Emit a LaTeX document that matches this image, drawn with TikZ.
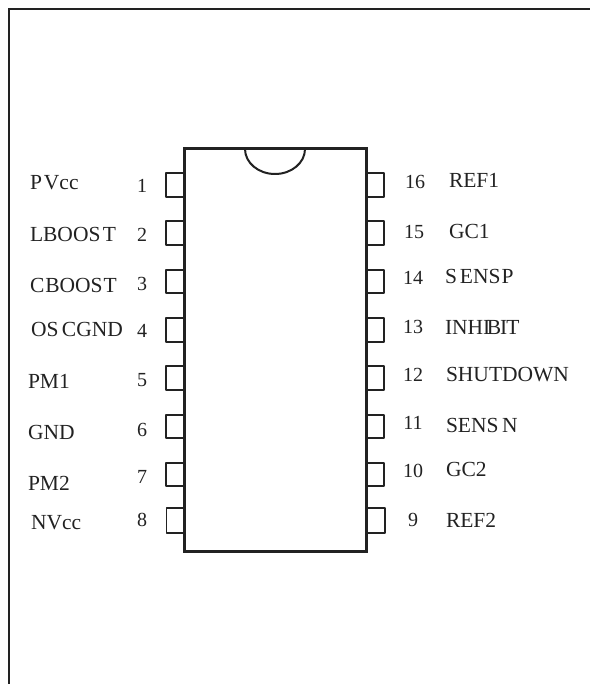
\documentclass[tikz,border=0pt]{standalone}
\usepackage{fontspec}
\setmainfont{Liberation Serif}
\definecolor{ink}{HTML}{222222}
\tikzset{
  x=1pt,y=-1pt,
  lbl/.style={anchor=base west,inner sep=0pt,outer sep=0pt,text=ink,font=\fontsize{21.5}{22}\selectfont},
  num/.style={anchor=base,inner sep=0pt,outer sep=0pt,text=ink,font=\fontsize{20}{20}\selectfont},
  body/.style={draw=ink,line width=3pt,line join=miter},
  pinbox/.style={draw=ink,line width=2.6pt,line join=round},
  thinpin/.style={draw=ink,line width=1.7pt,line join=round},
  frameline/.style={draw=ink,line width=1.5pt}
}
\begin{document}
\begin{tikzpicture}
\useasboundingbox (0,0) rectangle (590,684);
\coordinate (fa) at (9,684);
\coordinate (fb) at (9,9);
\coordinate (fc) at (590,9);
\draw[frameline] (fa) -- (fb) -- (fc);
\foreach \ya/\yb in {173/197,221/245,270/293,318/342,366/390,415/438,463/486}{
  \draw[pinbox] (184,\ya) -- (166,\ya) -- (166,\yb) -- (184,\yb);
  \draw[pinbox] (366,\ya) -- (384,\ya) -- (384,\yb) -- (366,\yb);
}
\draw[thinpin] (184,508) -- (166.5,508) -- (166.5,533) -- (184,533);
\draw[thinpin] (366,508) -- (385,508) -- (385,533) -- (366,533);
\draw[body] (184,149) rectangle (366,551);
\draw[draw=ink,line width=2pt] (245,149) arc[start angle=180,end angle=360,x radius=30,y radius=-25];
\node[lbl] (l1) at (30,190) {P\kern2pt Vcc};
\node[lbl] (l2) at (30,242) {LBOOS\kern2.5pt T};
\node[lbl] (l3) at (30,292) {C\kern1pt BOOS\kern1pt T\kern1pt};
\node[lbl] (l4) at (31,336) {OS\kern3.5pt CGND};
\node[lbl] (l5) at (28,388) {PM1};
\node[lbl] (l6) at (28,439) {GND};
\node[lbl] (l7) at (28,490) {PM2};
\node[lbl] (l8) at (31,529) {NVcc};
\node[num] (n1) at (142,193) {1};
\node[num] (n2) at (142,242) {2};
\node[num] (n3) at (142,290) {3};
\node[num] (n4) at (142,337) {4};
\node[num] (n5) at (142,386) {5};
\node[num] (n6) at (142,436) {6};
\node[num] (n7) at (142,483) {7};
\node[num] (n8) at (142,526) {8};
\node[num] (n16) at (415,189) {16};
\node[num] (n15) at (414,239) {15};
\node[num] (n14) at (413,284) {14};
\node[num] (n13) at (413,333) {13};
\node[num] (n12) at (413,381) {12};
\node[num] (n11) at (413,429) {11};
\node[num] (n10) at (413,477) {10};
\node[num] (n9) at (413,526) {9};
\node[lbl] (r16) at (449,188) {REF1};
\node[lbl] (r15) at (449,239) {GC1};
\node[lbl] (r14) at (445,283) {S\kern3pt ENS\kern1pt P};
\node[lbl] (r13) at (445,334) {INHI\kern-3.5pt B\kern-1pt I\kern-1pt T};
\node[lbl] (r12) at (446,381) {SHUTDOWN};
\node[lbl] (r11) at (446,432) {SENS\kern3.5pt N};
\node[lbl] (r10) at (446,476) {GC2};
\node[lbl] (r9) at (446,527) {REF2};
\end{tikzpicture}
\end{document}
